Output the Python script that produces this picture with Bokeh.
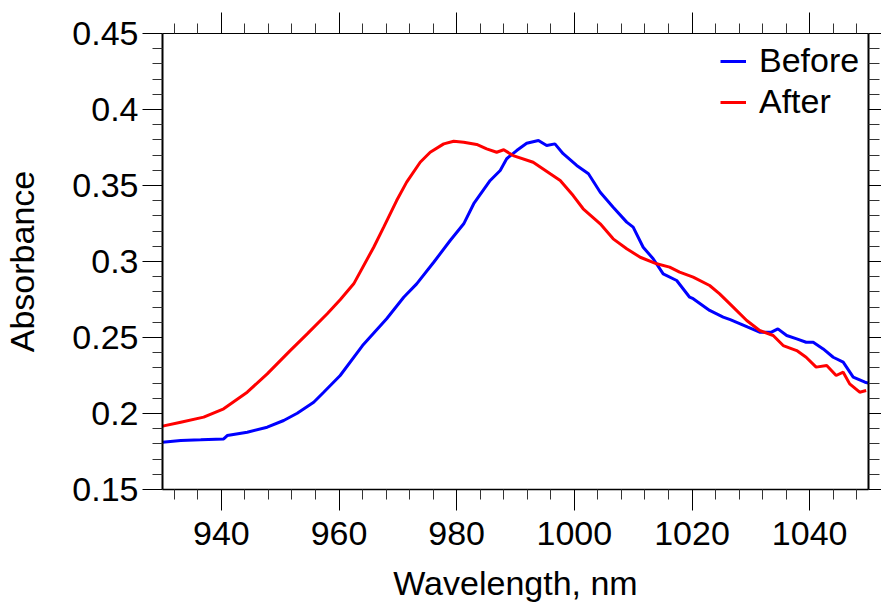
from bokeh.plotting import figure
from bokeh.models import (LinearAxis, FixedTicker, NumeralTickFormatter, Range1d,
                          Legend, LegendItem, CustomJSTickFormatter)
from bokeh.embed import file_html
from bokeh.resources import INLINE

# ---- data ----
before_wl = [930.0, 933.1, 936.5, 940.4, 941.0, 944.4, 947.8, 950.6, 952.9, 955.7,
             957.4, 960.2, 964.0, 968.1, 971.0, 973.2, 976.1, 978.9, 981.2, 982.9,
             985.7, 987.4, 988.5, 990.2, 991.9, 993.9, 995.3, 996.7, 998.1, 1000.4,
             1002.4, 1004.4, 1006.6, 1008.9, 1010.0, 1011.7, 1013.4, 1015.1, 1017.4,
             1019.6, 1020.2, 1023.0, 1025.3, 1026.5, 1028.2, 1029.5, 1031.5, 1033.5,
             1034.6, 1036.1, 1037.8, 1039.4, 1040.6, 1042.3, 1044.0, 1045.7, 1047.4,
             1049.4, 1050.0]
before_abs = [0.1811, 0.1822, 0.1827, 0.1833, 0.1855, 0.1877, 0.1910, 0.1954, 0.2002, 0.2074,
              0.2140, 0.2250, 0.2447, 0.2623, 0.2765, 0.2853, 0.2995, 0.3138, 0.3248, 0.3380,
              0.3533, 0.3599, 0.3676, 0.3730, 0.3778, 0.3796, 0.3763, 0.3774, 0.3709, 0.3632,
              0.3577, 0.3456, 0.3357, 0.3259, 0.3226, 0.3094, 0.3018, 0.2919, 0.2875,
              0.2765, 0.2755, 0.2678, 0.2634, 0.2617, 0.2590, 0.2568, 0.2535, 0.2535,
              0.2557, 0.2513, 0.2491, 0.2469, 0.2469, 0.2425, 0.2370, 0.2338, 0.2239,
              0.2206, 0.2200]

after_wl = [930.0, 933.1, 937.0, 940.4, 944.4, 947.8, 951.7, 954.6, 958.0, 960.2,
            962.5, 965.9, 967.6, 969.8, 971.5, 973.8, 975.5, 977.8, 979.5, 981.2,
            983.4, 985.1, 986.8, 988.0, 989.6, 993.0, 995.9, 997.6, 999.8, 1001.5,
            1004.4, 1006.6, 1008.9, 1011.2, 1014.0, 1016.2, 1017.9, 1020.2, 1023.0,
            1024.7, 1027.0, 1029.3, 1031.5, 1033.8, 1035.5, 1037.8, 1039.4, 1041.1,
            1042.9, 1044.5, 1045.7, 1046.8, 1048.5, 1049.6]
after_abs = [0.1917, 0.1943, 0.1976, 0.2031, 0.2140, 0.2261, 0.2414, 0.2524, 0.2656, 0.2748,
             0.2853, 0.3094, 0.3226, 0.3401, 0.3522, 0.3653, 0.3719, 0.3774, 0.3791, 0.3785,
             0.3770, 0.3741, 0.3719, 0.3735, 0.3697, 0.3653, 0.3577, 0.3533, 0.3434, 0.3347,
             0.3248, 0.3149, 0.3084, 0.3028, 0.2985, 0.2963, 0.2930, 0.2897, 0.2842,
             0.2787, 0.2700, 0.2612, 0.2546, 0.2513, 0.2447, 0.2414, 0.2370, 0.2305,
             0.2316, 0.2250, 0.2272, 0.2195, 0.2140, 0.2151]

x_major = [940, 960, 980, 1000, 1020, 1040]
x_minor = [932, 936, 944, 948, 952, 956, 964, 968, 972, 976, 984, 988, 992, 996,
           1004, 1008, 1012, 1016, 1024, 1028, 1032, 1036, 1044, 1048]
y_major = [0.15, 0.2, 0.25, 0.3, 0.35, 0.4, 0.45]
y_minor = [0.16, 0.17, 0.18, 0.19, 0.21, 0.22, 0.23, 0.24, 0.26, 0.27, 0.28, 0.29,
           0.31, 0.32, 0.33, 0.34, 0.36, 0.37, 0.38, 0.39, 0.41, 0.42, 0.43, 0.44]

FONT = "Liberation Sans"
FS = "34px"

p = figure(width=881, height=604, output_backend="svg", toolbar_location=None,
           x_range=Range1d(930, 1050), y_range=Range1d(0.15, 0.45),
           x_axis_location=None, y_axis_location=None,
           min_border_left=162, min_border_right=13, min_border_top=33,
           min_border_bottom=115)
p.outline_line_color = None
p.xgrid.visible = False
p.ygrid.visible = False
p.background_fill_color = "white"
p.border_fill_color = "white"

xt = FixedTicker(ticks=x_major, minor_ticks=x_minor)
yt = FixedTicker(ticks=y_major, minor_ticks=y_minor)
blank = CustomJSTickFormatter(code="return ''")


def style(ax, major_out, minor_out, line_w, labels=True):
    ax.major_tick_in = 0
    ax.minor_tick_in = 0
    ax.major_tick_out = major_out
    ax.minor_tick_out = minor_out
    ax.axis_line_width = line_w
    ax.axis_line_color = "black"
    ax.major_tick_line_color = "black"
    ax.minor_tick_line_color = "#333333"
    ax.major_tick_line_width = 1
    ax.minor_tick_line_width = 1
    if labels:
        ax.major_label_text_font = FONT
        ax.major_label_text_font_size = FS
        ax.major_label_text_color = "black"
    else:
        ax.major_label_text_font_size = "0px"
        ax.major_label_standoff = 0


bottom = LinearAxis(ticker=xt, axis_label="Wavelength, nm")
style(bottom, 21, 10, 1.5)
bottom.major_label_standoff = 11
bottom.axis_label_text_font = FONT
bottom.axis_label_text_font_size = FS
bottom.axis_label_text_font_style = "normal"
bottom.axis_label_text_color = "black"
bottom.axis_label_standoff = 16
p.add_layout(bottom, "below")

top = LinearAxis(ticker=xt, formatter=blank)
style(top, 21, 10, 1, labels=False)
p.add_layout(top, "above")

left = LinearAxis(ticker=yt, formatter=NumeralTickFormatter(format="0.[00]"),
                  axis_label="Absorbance")
style(left, 20, 10, 2)
left.major_label_standoff = 4
left.axis_label_text_font = FONT
left.axis_label_text_font_size = FS
left.axis_label_text_font_style = "normal"
left.axis_label_text_color = "black"
left.axis_label_standoff = 28
p.add_layout(left, "left")

right = LinearAxis(ticker=yt, formatter=blank)
style(right, 13, 11, 2, labels=False)
p.add_layout(right, "right")

r_before = p.line(before_wl, before_abs, line_color="#0000ff", line_width=3)
r_after = p.line(after_wl, after_abs, line_color="#ff0000", line_width=3)

legend = Legend(items=[LegendItem(label="Before", renderers=[r_before]),
                       LegendItem(label="After", renderers=[r_after])],
                location=(558, 368))
legend.border_line_color = None
legend.background_fill_alpha = 0
legend.label_text_font = FONT
legend.label_text_font_size = FS
legend.label_text_color = "black"
legend.glyph_width = 26
legend.label_standoff = 13
legend.spacing = 2
legend.padding = 0
legend.margin = 0
p.add_layout(legend)

open("out.html", "w").write(file_html(p, INLINE))
